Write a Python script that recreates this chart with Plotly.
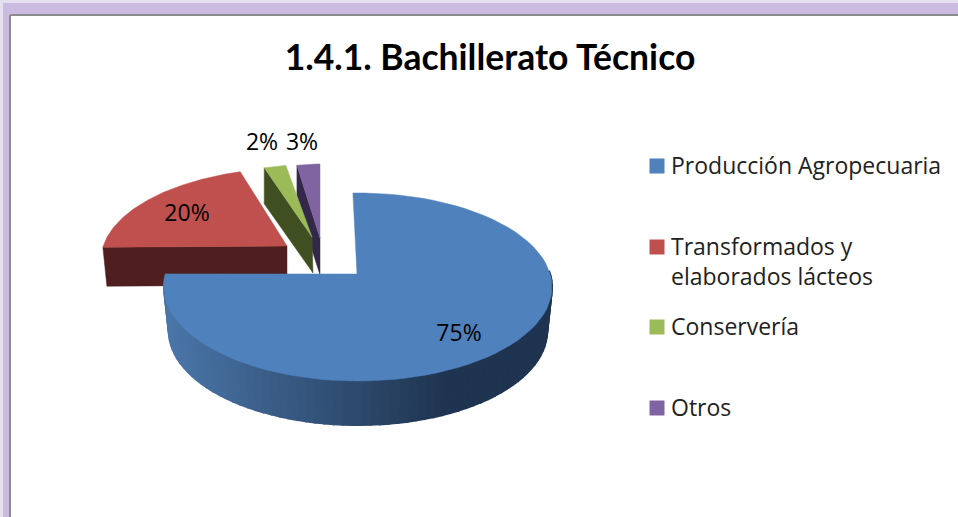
import math
import plotly.graph_objects as go

# Data
categories = ["Producción Agropecuaria", "Transformados y<br>elaborados lácteos", "Conservería", "Otros"]
values = [75, 20, 2, 3]
title_text = "1.4.1. Bachillerato Técnico"

# Style
top_colors = ["#4f81bd", "#c0504d", "#9bbb59", "#8064a2"]
face_colors = ["#1f3450", "#4e1f1e", "#404f22", "#33284a"]
centers = [(358, 287), (295, 260), (319, 258), (320, 258)]
apexes = [(357, 274), (287, 246), (312, 237), (320, 238)]
radii = [(194, 94), (194, 92), (194, 94), (135, 94)]
depths = [44, 39, 36, 37]
label_xy = [(459, 334), (187, 214), (262, 143), (302, 143)]
legend_x = 657
legend_text_x = 671
legend_rows = [166, 247, 327, 408]

fig = go.Figure()


def pt(c, r, deg, dy=0.0, scale=1.0):
    a = math.radians(deg)
    return c[0] + r[0] * scale * math.sin(a), c[1] - r[1] * math.cos(a) + dy


def poly(points, color, width=0.5):
    xs = [p[0] for p in points] + [points[0][0]]
    ys = [p[1] for p in points] + [points[0][1]]
    fig.add_trace(go.Scatter(x=xs, y=ys, mode="lines", fill="toself", fillcolor=color,
                             line=dict(color=color, width=width), hoverinfo="skip", showlegend=False))


def mix(c1, c2, t):
    a = [int(c1[i:i + 2], 16) for i in (1, 3, 5)]
    b = [int(c2[i:i + 2], 16) for i in (1, 3, 5)]
    return "rgb(%d,%d,%d)" % tuple(round(a[i] + (b[i] - a[i]) * t) for i in range(3))


def warp(deg):
    # perspective: the 3/4 turn is seen at about 278 degrees on the tilted ellipse
    if deg <= 270:
        return -1.5 + deg * (279.5 / 270)
    return 278 + (deg - 270) * (82 / 90)


# Slice angles derive from the values
total = sum(values)
spans = []
start = 0.0
for v in values:
    end = start + 360.0 * v / total
    spans.append((warp(start), warp(end)))
    start = end


def arc(i, n=80):
    a0, a1 = spans[i]
    return [pt(centers[i], radii[i], a0 + (a1 - a0) * k / n) for k in range(n + 1)]


# Back slices: red, purple, green
i = 1
a0, a1 = spans[i]
p0 = pt(centers[i], radii[i], a0)
d = depths[i]
poly([p0, apexes[i], (apexes[i][0], apexes[i][1] + d), (p0[0] + 4, p0[1] + d)], face_colors[i])
poly([apexes[i]] + arc(i), top_colors[i])

i = 3
a0, a1 = spans[i]
p0 = pt(centers[i], radii[i], a0)
d = depths[i]
poly([p0, apexes[i], (apexes[i][0], apexes[i][1] + d), (p0[0], p0[1] + d)], face_colors[i])
poly([apexes[i]] + arc(i), top_colors[i])

i = 2
a0, a1 = spans[i]
p0 = pt(centers[i], radii[i], a0)
d = depths[i]
poly([p0, apexes[i], (apexes[i][0] + 1, apexes[i][1] + d), (p0[0], p0[1] + d)], face_colors[i])
poly([apexes[i]] + arc(i), top_colors[i])

# Main slice: rim as shaded strips, then top face
i = 0
n_strips = 70
for k in range(n_strips):
    t0 = 80 + (spans[0][1] - 80) * k / n_strips
    t1 = 80 + (spans[0][1] - 80) * (k + 1) / n_strips
    q = [pt(centers[i], radii[i], t0), pt(centers[i], radii[i], t1),
         pt(centers[i], radii[i], t1, depths[i], 0.975), pt(centers[i], radii[i], t0, depths[i], 0.975)]
    xm = (q[0][0] + q[1][0]) / 2
    shade = min(1.0, max(0.0, (xm - 165) / (445 - 165)))
    c = mix("#4a76a8", face_colors[i], shade)
    poly(q, c, width=2)
poly([apexes[i]] + arc(i), top_colors[i])

# Legend keys
for name, color, row in zip(categories, top_colors, legend_rows):
    fig.add_trace(go.Scatter(x=[legend_x], y=[row], mode="markers", name=name.replace("<br>", " "),
                             marker=dict(symbol="square", size=15, color=color),
                             hoverinfo="skip", showlegend=False))

# Percent labels
fig.add_trace(go.Scatter(x=[p[0] for p in label_xy], y=[p[1] + 1 for p in label_xy], mode="text",
                         text=[f"{v}%" for v in values], textposition="middle center",
                         textfont=dict(family="Open Sans", size=23, color="#000000"),
                         hoverinfo="skip", showlegend=False))

# Legend labels
annotations = [
    dict(x=legend_text_x, y=row - 18, xref="x", yref="y", text=name, showarrow=False,
         xanchor="left", yanchor="top", align="left", xshift=-1, borderpad=0,
         font=dict(family="Open Sans", size=23, color="#222222"))
    for name, row in zip(categories, legend_rows)
]

# Window frame
shapes = [
    dict(type="rect", x0=0, x1=958, y0=0, y1=14, fillcolor="#ccbbe0", line_width=0, layer="below"),
    dict(type="rect", x0=0, x1=10, y0=0, y1=517, fillcolor="#ccbbe0", line_width=0, layer="below"),
    dict(type="rect", x0=0, x1=958, y0=0, y1=3, fillcolor="#e6e0ee", line_width=0, layer="below"),
    dict(type="rect", x0=0, x1=3, y0=0, y1=517, fillcolor="#e6e0ee", line_width=0, layer="below"),
    dict(type="line", x0=10, x1=958, y0=15, y1=15, line=dict(color="#8c8c8c", width=2), layer="below"),
    dict(type="line", x0=10, x1=10, y0=15, y1=517, line=dict(color="#8c8c8c", width=2), layer="below"),
]

fig.update_layout(
    width=958, height=517, margin=dict(l=0, r=0, t=0, b=0),
    paper_bgcolor="#ffffff", plot_bgcolor="#ffffff", shapes=shapes, annotations=annotations,
    showlegend=False,
    xaxis=dict(range=[0, 958], visible=False, fixedrange=True),
    yaxis=dict(range=[517, 0], visible=False, fixedrange=True),
    title=dict(text=title_text, x=490 / 958, xanchor="center", y=1 - 58 / 517, yanchor="middle",
               font=dict(family="Lato", size=35.5, color="#000000", weight="bold")),
)

fig.write_html("out.html", config=dict(displayModeBar=False),
               post_script="document.body.style.margin='0';document.documentElement.style.overflow='hidden';")
